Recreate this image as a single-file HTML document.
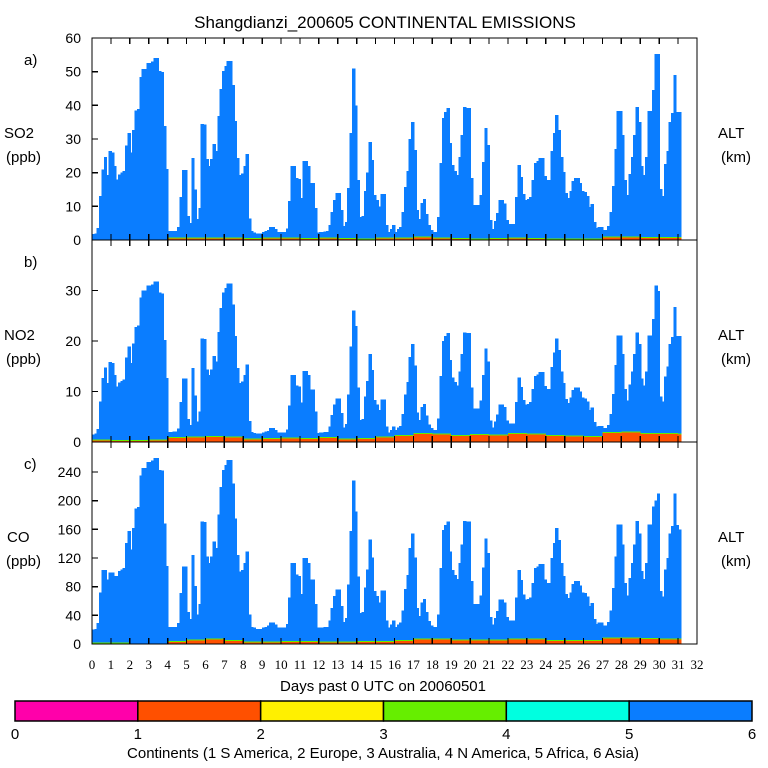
<!DOCTYPE html>
<html><head><meta charset="utf-8"><style>
html,body{margin:0;padding:0;background:#fff;}
svg{display:block;font-family:"Liberation Sans",sans-serif;}
</style></head><body>
<svg id="chart" width="768" height="768" viewBox="0 0 768 768">
<text x="385" y="28" font-size="17" text-anchor="middle">Shangdianzi_200605 CONTINENTAL EMISSIONS</text>
<g id="panels"></g>
<g id="colorbar"></g>
<text x="383" y="691" font-size="15" text-anchor="middle">Days past 0 UTC on 20060501</text>
<text x="383" y="758" font-size="15" text-anchor="middle">Continents (1 S America, 2 Europe, 3 Australia, 4 N America, 5 Africa, 6 Asia)</text>
</svg>
<script>
const so2 = [1.8,2,3.6,13,21,24.7,19.3,26.4, 26,22,18,19.5,20,20.5,28,31.8, 26,32.7,38.5,38.9,48.4,50.8,50.8,52.6, 52.6,53,54,54,50.2,49.9,33.9,21.1,
2.6,2.6,2.7,2.7,3.8,12.8,20.8,20.8, 7.1,5,24.4,15,6.2,9.5,34.5,34.3, 24,22,24,28.5,26.5,36.8,44.9,50.2, 51.7,53.2,53.2,46,35.4,24.4,19.3,19.8,
22,25.5,6.4,2.6,2.3,2,2,2, 2.4,2.7,3,3.9,3.9,3.2,2.4,2.4, 2.4,2.4,3.4,11.6,22,22,18.4,18.1, 12.5,23.5,23.5,22,17,17,9.5,2.3,
2.4,2.4,2.5,2.6,4.5,8.3,11.9,14, 14,8.9,4.2,5.3,15.4,31.8,51,40, 17.8,6.8,7.1,14.6,20,29.1,23.8,13.4, 11.9,10,13.7,13.7,4.5,2.4,3.3,4.5,
2.4,3.3,3.9,8.3,15.7,20.5,30,35, 26.7,8.9,6.2,11,12.2,7.7,4.5,3, 2.4,2.4,6.8,22.9,36.2,38,39.2,28.8, 22.3,20.5,19.3,24.7,31.2,39.5,39.2,39.2,
18.4,10.4,10.4,10.4,13.4,23.2,33.3,28.2, 5.9,3.3,5.6,8,11.9,11.9,10.9,5.9, 4.8,4.8,4.8,12.8,22.3,18.7,13.7,11.9, 12.2,12.8,17.8,22.9,23.5,24.4,24.4,19,
17.8,17.8,26.4,31.8,37.1,32.7,24.7,20.2, 14,12.5,14.6,17.5,18.4,18.4,17,14.6, 14.3,13,9.8,10.7,5.3,3.6,3.9,3.9, 3,3,4.2,8.3,16,27,38.3,38.3,
31.2,17.8,13.4,19.6,24.7,31.2,39.5,35, 22,19.3,24.7,38.3,38.3,44.6,55.2,55.2, 15.1,13,22.6,26.4,35,37.7,49,38, 38];
const no2 = [1.5,1.7,2.6,8,12.7,14.8,11.7,15.8, 15.6,13.3,11,11.8,12.1,12.4,16.7,18.9, 15.6,19.5,22.8,23.1,28.6,30,30,31, 31,31.2,31.8,31.8,29.6,29.4,20.2,12.7,
2,2,2.1,2.1,2.7,7.9,12.6,12.6, 4.6,3.4,14.7,9.2,4.1,6,20.5,20.4, 14.4,13.3,14.4,17,15.9,21.8,26.5,29.6, 30.5,31.4,31.4,27.2,21,14.7,11.7,12,
13.3,15.3,4.2,2,1.8,1.7,1.7,1.7, 1.9,2.1,2.2,2.8,2.8,2.4,1.9,1.9, 1.9,1.9,2.5,7.2,13.3,13.3,11.2,11, 7.8,14.1,14.1,13.3,10.4,10.4,6,1.8,
1.9,1.9,2,2,3.1,5.3,7.4,8.6, 8.6,5.7,2.9,3.6,9.4,18.9,26,23, 10.8,4.4,4.6,9,12.1,17.4,14.3,8.3, 7.4,6.3,8.4,8.4,3.1,1.9,2.4,3.1,
2.4,2.9,3.2,5.5,9.4,11.9,16.8,19.4, 15.1,5.8,4.4,6.9,7.5,5.2,3.5,2.8, 2.4,2.4,4.7,13.1,20,21,21.6,16.2, 12.8,11.9,11.2,14,17.4,21.7,21.6,21.6,
10.8,6.6,6.6,6.6,8.2,13.3,18.5,15.9, 4.3,2.9,4.1,5.4,7.4,7.4,6.9,4.3, 3.7,3.7,3.7,7.9,12.8,10.9,8.3,7.4, 7.5,7.9,10.5,13.1,13.4,13.9,13.9,11.1,
10.5,10.5,14.9,17.7,20.5,18.2,14,11.7, 8.5,7.7,8.8,10.3,10.8,10.8,10,8.8, 8.6,8,6.3,6.8,4,3.1,3.2,3.2, 2.8,2.8,3.4,5.5,9.5,15.2,21.1,21.1,
17.4,10.5,8.2,11.4,14,17.4,21.7,19.4, 12.6,11.2,14,21.1,21.1,24.4,31,29.9, 9,8,13,15,19.4,20.8,26.7,21, 21];
const co = [20,21,29,72,103,103,90,100, 100,95,95,102,104,106,141,158, 132,162,189,191,235,246,246,254, 254,256,260,260,243,242,168,109,
24,24,24,24,29,71,108,108, 45,35,124,81,41,56,171,170, 122,113,122,143,134,181,219,243, 250,257,257,224,175,124,101,103,
113,129,41,24,23,21,21,21, 23,24,26,30,30,27,23,23, 23,23,28,65,113,113,97,95, 70,120,120,113,90,90,56,23,
23,23,24,24,33,50,67,76, 76,53,31,36,83,158,228,185, 94,43,45,79,104,146,121,74, 67,58,75,75,33,23,27,33,
24,27,30,47,77,96,134,154, 121,50,39,58,63,45,32,26, 24,24,41,106,159,166,171,129, 103,96,91,113,139,172,171,171,
88,56,56,56,68,107,147,127, 38,27,36,46,62,62,58,38, 33,33,33,65,103,89,69,62, 63,65,85,106,108,112,112,90,
85,85,120,141,162,145,113,95, 70,64,72,84,88,88,82,72, 71,66,53,57,35,28,30,30, 26,26,31,47,78,122,167,167,
139,85,68,92,113,139,172,154, 102,91,113,167,167,192,200,210, 74,66,104,120,154,165,210,166, 160];
const so2Other = [0,0,0,0,0.4,0.4,0.4,0.4,0.3,0.4,0.5,0.3,0.4,0.3,0.2,0.4,0.4,0.8,0.5,0.3,0.2,0.3,0.4,0.3,0.2,0.2,0.2,0.8,0.8,0.6,0.6,0.6];
const no2Other = [0.3,0.2,0.2,0.3,0.8,0.9,1,0.9,0.5,0.6,0.7,0.6,0.8,0.5,0.6,0.9,1.2,1.6,1.5,1.2,1.4,1.3,1.6,1.5,1.2,1.1,1,1.8,1.9,1.6,1.6,1.5];
const coOther = [1,1,0,0,3,5,6,4,2,2,3,3,2,2,3,3,4,6,6,5,5,5,6,6,4,4,4,8,8,7,6,6];
const so2Ticks = [0,10,20,30,40,50,60];
const no2Ticks = [0,10,20,30];
const coTicks = [0,40,80,120,160,200,240];
const dayLabels = [0,1,2,3,4,5,6,7,8,9,10,11,12,13,14,15,16,17,18,19,20,21,22,23,24,25,26,27,28,29,30,31,32];
const legendLabels = ["0","1","2","3","4","5","6"];
const legendColors = ["#ff00aa","#ff5000","#fff000","#66ee00","#00ffe0","#0a7dff"];

const NS="http://www.w3.org/2000/svg";
const X0=92, X1=697, DAYS=32, BARS_PER_DAY=8;
function xScale(d){return X0+(X1-X0)*d/DAYS;}
function mk(tag,attrs,parent){const e=document.createElementNS(NS,tag);for(const k in attrs)e.setAttribute(k,attrs[k]);parent.appendChild(e);return e;}
const panels=document.getElementById('panels');
const defs=[
 {key:'so2',top:38,bot:240,max:60,vals:so2,oth:so2Other,ticks:so2Ticks,letter:'a)',sp:'SO2'},
 {key:'no2',top:240,bot:442,max:40,vals:no2,oth:no2Other,ticks:no2Ticks,letter:'b)',sp:'NO2'},
 {key:'co',top:442,bot:644,max:282,vals:co,oth:coOther,ticks:coTicks,letter:'c)',sp:'CO'}
];
defs.forEach(p=>{
 const g=mk('g',{'shape-rendering':'crispEdges'},panels);
 
 
 const yS=v=>p.bot-(p.bot-p.top)*v/p.max;
 const bw=(X1-X0)/DAYS/BARS_PER_DAY;
 p.vals.forEach((v,i)=>{
  const x=xScale(i/BARS_PER_DAY);
  const o=Math.min(p.oth[Math.floor(i/BARS_PER_DAY)],v);
  const b=mk('rect',{x:x,y:yS(v),width:bw+1,height:yS(o)-yS(v),fill:'#0a7dff'},g);
  
  
  if(o>0){
   const r=mk('rect',{x:x,y:yS(o),width:bw+1,height:p.bot-yS(o),fill:'#ff5000'},g);
   
   
   const gl=mk('rect',{x:x,y:yS(o)-1,width:bw+1,height:1,fill:'#66ee00'},g);
   
   
  }
 });
 const fr=mk('rect',{x:X0,y:p.top,width:X1-X0,height:p.bot-p.top,fill:'none',stroke:'#000','stroke-width':1.3},g);
 
 
 dayLabels.forEach(d=>{
  const x=xScale(d);
  mk('line',{x1:x,y1:p.top,x2:x,y2:p.top+6,stroke:'#000','stroke-width':1.3},g);
  mk('line',{x1:x,y1:p.bot,x2:x,y2:p.bot-6,stroke:'#000','stroke-width':1.3},g);
 });
 p.ticks.forEach(t=>{
  const y=yS(t);
  mk('line',{x1:X0,y1:y,x2:X0+6,y2:y,stroke:'#000','stroke-width':1.3},g);
  const tl=mk('text',{x:81,y:y+5,'font-size':14,'text-anchor':'end'},g);
  tl.textContent=t;
  
  
 });
 const mid=(p.top+p.bot)/2;
 const lt=mk('text',{x:24,y:p.top+27,'font-size':15},g);lt.textContent=p.letter;
 
 
 const sp=mk('text',{x:p.key==='co'?7:4,y:mid-1,'font-size':15},g);sp.textContent=p.sp;
 
 
 const un=mk('text',{x:6,y:mid+23,'font-size':15},g);un.textContent='(ppb)';
 
 
 const al=mk('text',{x:718,y:mid-1,'font-size':15},g);al.textContent='ALT';
 
 
 const km=mk('text',{x:721,y:mid+23,'font-size':15},g);km.textContent='(km)';
 
 
});
dayLabels.forEach(d=>{
 const t=mk('text',{x:xScale(d),y:669,'font-size':13,'text-anchor':'middle','font-family':'Liberation Serif, serif'},panels);
 t.textContent=d;
 
 
});
const cb=document.getElementById('colorbar');
const CB0=15,CB1=752,segW=(CB1-CB0)/legendColors.length;
legendColors.forEach((c,i)=>{
 const r=mk('rect',{x:CB0+i*segW,y:701,width:segW,height:20,fill:c,stroke:'#000','stroke-width':1.5},cb);
 
 
});
legendLabels.forEach((l,i)=>{
 const t=mk('text',{x:CB0+i*segW,y:739,'font-size':15,'text-anchor':'middle'},cb);
 t.textContent=l;
 
 
});
</script>
</body></html>
